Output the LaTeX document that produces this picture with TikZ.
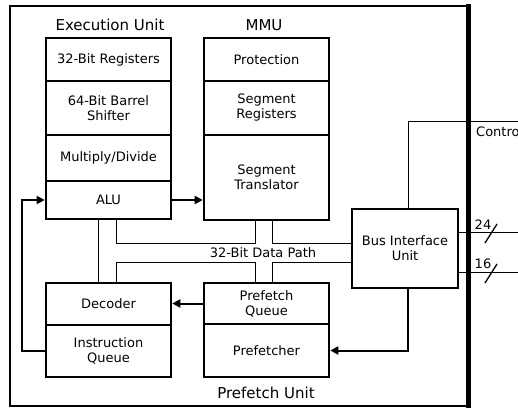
\documentclass[tikz,border=0pt]{standalone}
\usepackage{fontspec}
\setmainfont{DejaVu Sans}
\usetikzlibrary{arrows.meta,calc}
\begin{document}
\begin{tikzpicture}[x=1pt,y=-1pt,
  cell/.style={draw,line width=2.6pt,minimum width=125pt,inner sep=0pt,align=center,
    font=\fontsize{13}{15}\selectfont},
  title/.style={font=\fontsize{15}{17}\selectfont,inner sep=0pt},
  lbl/.style={font=\fontsize{13}{15}\selectfont,inner sep=0pt},
  bus/.style={line width=1pt},
  arr/.style={line width=2pt,-{Triangle[length=8pt,width=8pt]}}]
\useasboundingbox (0,0) rectangle (518,408);
\clip (0,0) rectangle (518,408);
% outer frame
\draw[line width=2pt] (468,6) -- (10,6) -- (10,406) -- (468,406);
\draw[line width=5pt] (468,4) -- (468,408);
% titles
\node[title] (teu) at (110,25) {Execution Unit};
\node[title] (tmmu) at (264,25) {MMU};
\node[title] (tpu) at (266,393) {Prefetch Unit};
% execution unit
\node[cell,minimum height=43pt] (reg) at (108.5,59.5) {32-Bit Registers};
\node[cell,minimum height=54pt] (bs) at (108.5,108) {64-Bit Barrel\\Shifter};
\node[cell,minimum height=46pt] (md) at (108.5,158) {Multiply/Divide};
\node[cell,minimum height=38pt] (alu) at (108.5,200) {ALU};
% MMU
\node[cell,minimum height=43pt] (prot) at (266.5,59.5) {Protection};
\node[cell,minimum height=54pt] (sr) at (266.5,108) {Segment\\Registers};
\node[cell,minimum height=85pt] (tr) at (266.5,177.5) {Segment\\Translator};
% decoder / instruction queue
\node[cell,minimum height=42pt] (dec) at (108.5,304) {Decoder};
\node[cell,minimum height=52pt] (iq) at (108.5,351) {Instruction\\Queue};
% prefetch
\node[cell,minimum height=41pt] (pq) at (266.5,303.5) {Prefetch\\Queue};
\node[cell,minimum height=53pt] (pf) at (266.5,350.5) {Prefetcher};
% bus interface unit
\node[cell,minimum width=106pt,minimum height=79pt] (biu) at (405,248.5) {Bus Interface\\Unit};
% helper coordinates
\coordinate (ub) at (0,243);
\coordinate (lb) at (0,262);
\coordinate (ectl) at (530,121);
\coordinate (e24) at (530,232);
\coordinate (e16) at (530,272);
% arrows
\draw[arr] (iq.west) -- ++(-23,0) |- (alu.west);
\draw[arr] (alu.east) -- (alu.east -| tr.west);
\draw[arr] (pq.west) -- (pq.west -| dec.east);
\draw[arr] ([xshift=3pt]biu.south) |- (pf.east);
% data path
\draw[bus] ([xshift=-10.5pt]alu.south) -- ([xshift=-10.5pt]dec.north);
\draw[bus] ([xshift=7.5pt]alu.south) |- ([xshift=-11.5pt]tr.south |- ub) -- ([xshift=-11.5pt]tr.south);
\draw[bus] ([xshift=5.5pt]tr.south) |- (biu.west |- ub);
\draw[bus] ([xshift=7.5pt]dec.north) |- ([xshift=-11.5pt]pq.north |- lb) -- ([xshift=-11.5pt]pq.north);
\draw[bus] ([xshift=5.5pt]pq.north) |- (biu.west |- lb);
\node[lbl] (dp) at (263,253) {32-Bit Data Path};
% external lines
\draw[bus] ([xshift=3pt]biu.north) |- (ectl);
\node[lbl,anchor=west] (ctl) at (476,132) {Control};
\draw[bus] (biu.east |- e24) -- (e24);
\draw[bus] (biu.east |- e16) -- (e16);
\coordinate (s24a) at (485,243);
\coordinate (s24b) at (497,224);
\coordinate (s16a) at (485,283);
\coordinate (s16b) at (497,264);
\draw[line width=1.3pt] (s24a) -- (s24b);
\draw[line width=1.3pt] (s16a) -- (s16b);
\node[lbl] (n24) at (483,225) {24};
\node[lbl] (n16) at (483,264) {16};
\end{tikzpicture}
\end{document}
